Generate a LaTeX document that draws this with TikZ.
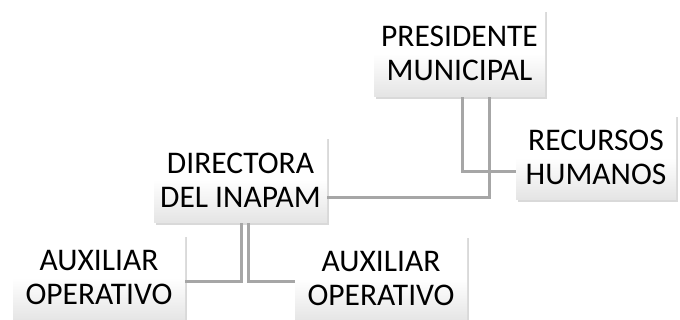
\documentclass[tikz,border=0pt]{standalone}
\usepackage{fontspec}
\setmainfont{Carlito}
\usetikzlibrary{shadows}
\definecolor{linegray}{RGB}{166,166,166}
\definecolor{boxbot}{RGB}{228,228,228}
\tikzset{
  orgbox/.style={rectangle, top color=white, bottom color=boxbot, middle color=white,
    inner sep=0pt, align=center, text=black,
    font=\fontsize{31.5}{34}\selectfont,
    drop shadow={shadow xshift=2pt, shadow yshift=-2.5pt, fill=black, opacity=0.15}},
  conn/.style={draw=linegray, line width=3pt}
}
\begin{document}
\begin{tikzpicture}[x=1pt,y=-1pt]
\useasboundingbox (0,0) rectangle (680,320);
\fill[white] (0,0) rectangle (680,320);
\node[orgbox, minimum width=171pt, minimum height=87pt] (pres) at (459.5,53.5) {PRESIDENTE\\MUNICIPAL};
\node[orgbox, minimum width=160pt, minimum height=85pt] (rrhh) at (596,157.5) {RECURSOS\\HUMANOS};
\node[orgbox, minimum width=173pt, minimum height=86pt] (dir) at (240.5,180) {DIRECTORA\\DEL INAPAM};
\node[orgbox, minimum width=172pt, minimum height=86pt] (aux1) at (99,278) {AUXILIAR\\OPERATIVO};
\node[orgbox, minimum width=172pt, minimum height=86pt] (aux2) at (381,279) {AUXILIAR\\OPERATIVO};
\coordinate (c1) at (462,172);
\coordinate (c2) at (489,198);
\coordinate (c3) at (241,282);
\coordinate (c4) at (248,282);
\draw[conn] (pres.south -| c1) |- (rrhh.west |- c1);
\draw[conn] (pres.south -| c2) |- (dir.east |- c2);
\draw[conn] (dir.south -| c3) |- (aux1.east |- c3);
\draw[conn] (dir.south -| c4) |- (aux2.west |- c4);
\end{tikzpicture}
\end{document}
